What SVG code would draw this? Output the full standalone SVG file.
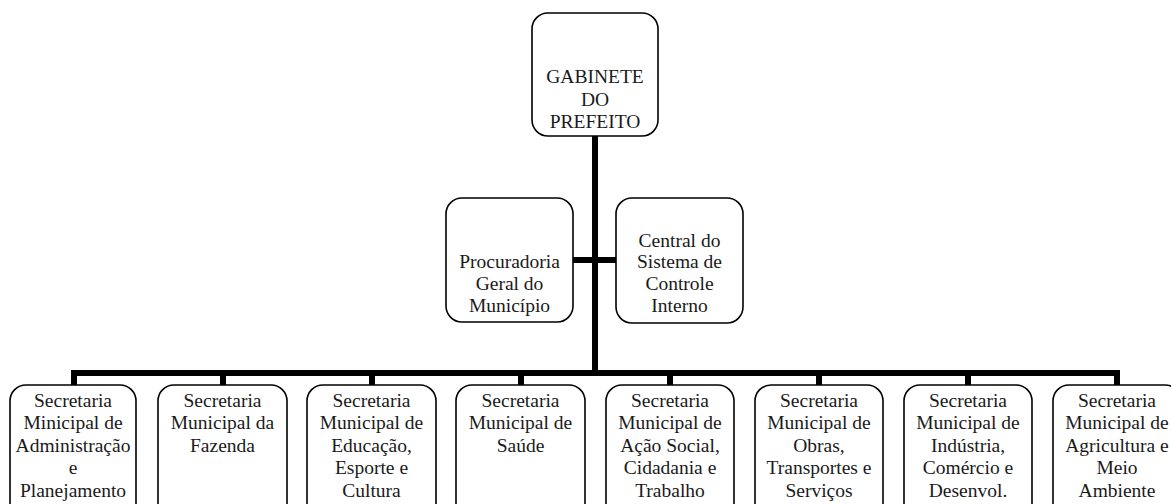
<svg xmlns="http://www.w3.org/2000/svg" width="1171" height="504" viewBox="0 0 1171 504">
<style>
.box{fill:#fff;stroke:#000;stroke-width:1.6}
.t{font-family:"Liberation Serif","Times New Roman",serif;font-size:19.5px;fill:#1a1a1a;text-anchor:middle}
.c{stroke:#000;stroke-width:6;fill:none}
</style>
<rect width="1171" height="504" fill="#fff"/>
<g id="connectors">
<line class="c" x1="595" y1="136" x2="595" y2="373"/>
<line class="c" x1="573" y1="260" x2="616" y2="260"/>
<polyline class="c" points="74,386 74,373 1117,373 1117,386"/>
<line class="c" x1="223" y1="373" x2="223" y2="386"/>
<line class="c" x1="372" y1="373" x2="372" y2="386"/>
<line class="c" x1="521" y1="373" x2="521" y2="386"/>
<line class="c" x1="670" y1="373" x2="670" y2="386"/>
<line class="c" x1="819" y1="373" x2="819" y2="386"/>
<line class="c" x1="968" y1="373" x2="968" y2="386"/>
</g>
<g id="gabinete">
<rect class="box" x="532" y="13" width="126" height="123" rx="16"/>
<text class="t"><tspan x="595" y="83">GABINETE</tspan><tspan x="595" y="106">DO</tspan><tspan x="595" y="128">PREFEITO</tspan></text>
</g>
<g id="procuradoria">
<rect class="box" x="446" y="198" width="127" height="124" rx="16"/>
<text class="t"><tspan x="509.5" y="268">Procuradoria</tspan><tspan x="509.5" y="290">Geral do</tspan><tspan x="509.5" y="312">Município</tspan></text>
</g>
<g id="controle">
<rect class="box" x="616" y="198" width="127" height="125" rx="16"/>
<text class="t"><tspan x="679.5" y="247">Central do</tspan><tspan x="679.5" y="268">Sistema de</tspan><tspan x="679.5" y="290">Controle</tspan><tspan x="679.5" y="312">Interno</tspan></text>
</g>
<g id="sec-administracao">
<rect class="box" x="10" y="385" width="126" height="140" rx="16"/>
<text class="t"><tspan x="73" y="407">Secretaria</tspan><tspan x="73" y="429">Minicipal de</tspan><tspan x="73" y="452">Administração</tspan><tspan x="73" y="474">e</tspan><tspan x="73" y="497">Planejamento</tspan></text>
</g>
<g id="sec-fazenda">
<rect class="box" x="158" y="385" width="129" height="140" rx="16"/>
<text class="t"><tspan x="222.5" y="407">Secretaria</tspan><tspan x="222.5" y="429">Municipal da</tspan><tspan x="222.5" y="452">Fazenda</tspan></text>
</g>
<g id="sec-educacao">
<rect class="box" x="307" y="385" width="129" height="140" rx="16"/>
<text class="t"><tspan x="371.5" y="407">Secretaria</tspan><tspan x="371.5" y="429">Municipal de</tspan><tspan x="371.5" y="452">Educação,</tspan><tspan x="371.5" y="474">Esporte e</tspan><tspan x="371.5" y="497">Cultura</tspan></text>
</g>
<g id="sec-saude">
<rect class="box" x="456" y="385" width="129" height="140" rx="16"/>
<text class="t"><tspan x="520.5" y="407">Secretaria</tspan><tspan x="520.5" y="429">Municipal de</tspan><tspan x="520.5" y="452">Saúde</tspan></text>
</g>
<g id="sec-acao-social">
<rect class="box" x="606" y="385" width="128" height="140" rx="16"/>
<text class="t"><tspan x="670" y="407">Secretaria</tspan><tspan x="670" y="429">Municipal de</tspan><tspan x="670" y="452">Ação Social,</tspan><tspan x="670" y="474">Cidadania e</tspan><tspan x="670" y="497">Trabalho</tspan></text>
</g>
<g id="sec-obras">
<rect class="box" x="755" y="385" width="128" height="140" rx="16"/>
<text class="t"><tspan x="819" y="407">Secretaria</tspan><tspan x="819" y="429">Municipal de</tspan><tspan x="819" y="452">Obras,</tspan><tspan x="819" y="474">Transportes e</tspan><tspan x="819" y="497">Serviços</tspan></text>
</g>
<g id="sec-industria">
<rect class="box" x="904" y="385" width="128" height="140" rx="16"/>
<text class="t"><tspan x="968" y="407">Secretaria</tspan><tspan x="968" y="429">Municipal de</tspan><tspan x="968" y="452">Indústria,</tspan><tspan x="968" y="474">Comércio e</tspan><tspan x="968" y="497">Desenvol.</tspan></text>
</g>
<g id="sec-agricultura">
<rect class="box" x="1053" y="385" width="128" height="140" rx="16"/>
<text class="t"><tspan x="1117" y="407">Secretaria</tspan><tspan x="1117" y="429">Municipal de</tspan><tspan x="1117" y="452">Agricultura e</tspan><tspan x="1117" y="474">Meio</tspan><tspan x="1117" y="497">Ambiente</tspan></text>
</g>
</svg>
